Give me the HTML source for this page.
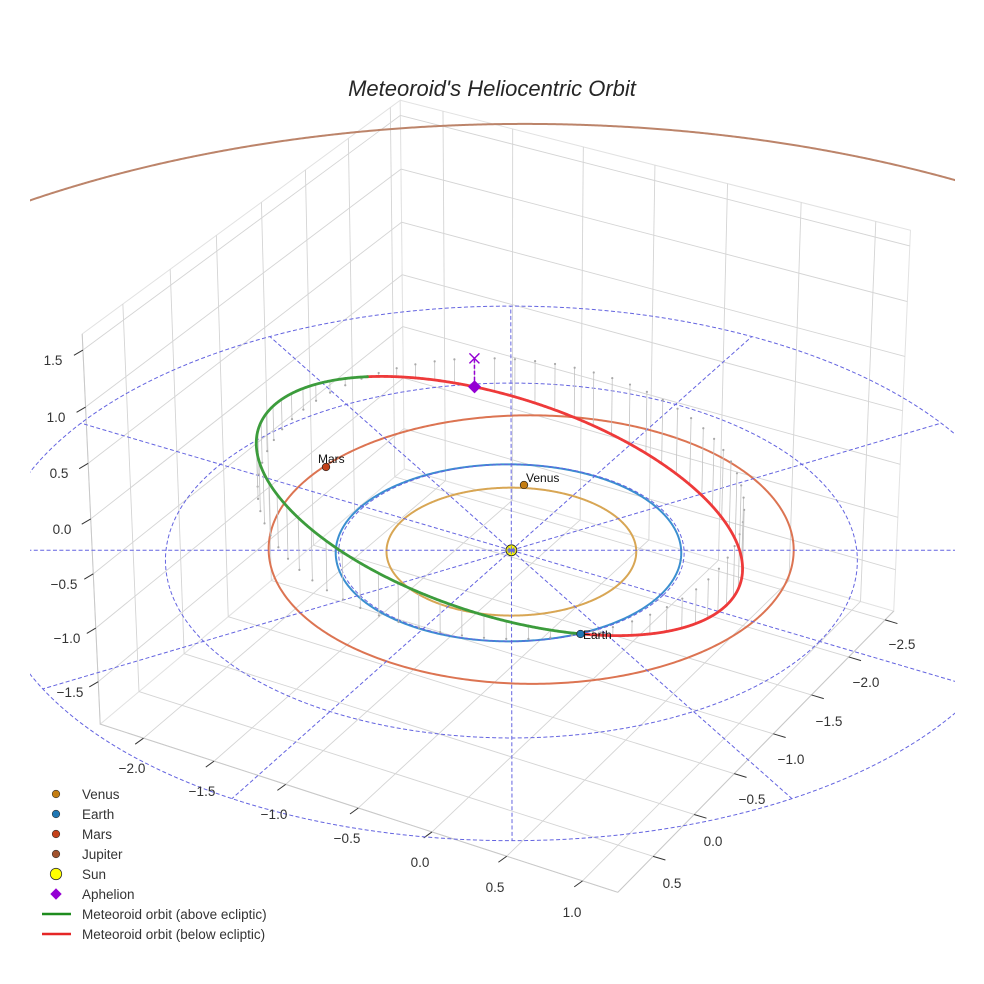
<!DOCTYPE html>
<html>
<head>
<meta charset="utf-8">
<style>
  html, body { margin:0; padding:0; background:#ffffff; width:984px; height:984px; overflow:hidden; }
  svg { display:block; font-family:"Liberation Sans", Arial, sans-serif; }
  .tk { font-size:13.5px; fill:#333333; text-anchor:middle; }
  .lg { font-size:13.5px; fill:#333333; }
  .pl { font-size:12px; fill:#111111; }
</style>
</head>
<body>
<svg id="s" xmlns="http://www.w3.org/2000/svg" width="984" height="984" viewBox="0 0 984 984" overflow="hidden">
  <defs>
    <clipPath id="clip"><rect x="30" y="30" width="925" height="925"/></clipPath>
  </defs>
  <rect x="0" y="0" width="984" height="984" fill="#ffffff"/>
  <g id="grid"></g>
  <g id="ticks"></g>
  <g id="data" clip-path="url(#clip)"></g>

  <!-- Title -->
  <text x="492" y="96" font-size="22" font-style="italic" fill="#262626" text-anchor="middle">Meteoroid's Heliocentric Orbit</text>

  <!-- z tick labels -->
  <text class="tk" x="53" y="365">1.5</text>
  <text class="tk" x="56" y="422">1.0</text>
  <text class="tk" x="59" y="478">0.5</text>
  <text class="tk" x="62" y="534">0.0</text>
  <text class="tk" x="64" y="589">−0.5</text>
  <text class="tk" x="67" y="643">−1.0</text>
  <text class="tk" x="70" y="697">−1.5</text>

  <!-- x tick labels -->
  <text class="tk" x="132" y="773">−2.0</text>
  <text class="tk" x="202" y="796">−1.5</text>
  <text class="tk" x="274" y="819">−1.0</text>
  <text class="tk" x="347" y="843">−0.5</text>
  <text class="tk" x="420" y="867">0.0</text>
  <text class="tk" x="495" y="892">0.5</text>
  <text class="tk" x="572" y="917">1.0</text>

  <!-- y tick labels -->
  <text class="tk" x="902" y="649">−2.5</text>
  <text class="tk" x="866" y="687">−2.0</text>
  <text class="tk" x="829" y="726">−1.5</text>
  <text class="tk" x="791" y="764">−1.0</text>
  <text class="tk" x="752" y="804">−0.5</text>
  <text class="tk" x="713" y="846">0.0</text>
  <text class="tk" x="672" y="888">0.5</text>

  <!-- Planet markers & labels -->
  <circle cx="524" cy="485" r="3.8" fill="#c47d12" stroke="#222" stroke-width="0.7"/>
  <circle cx="580.5" cy="634" r="3.8" fill="#1f77b4" stroke="#222" stroke-width="0.7"/>
  <circle cx="326" cy="467" r="3.8" fill="#c4421a" stroke="#222" stroke-width="0.7"/>
  <text class="pl" x="526" y="482">Venus</text>
  <text class="pl" x="583" y="639">Earth</text>
  <text class="pl" x="318" y="463">Mars</text>

  <!-- Legend -->
  <circle cx="56" cy="794" r="3.8" fill="#c47d12" stroke="#333" stroke-width="0.6"/>
  <text class="lg" x="82" y="799">Venus</text>
  <circle cx="56" cy="814" r="3.8" fill="#1f77b4" stroke="#333" stroke-width="0.6"/>
  <text class="lg" x="82" y="819">Earth</text>
  <circle cx="56" cy="834" r="3.8" fill="#c4421a" stroke="#333" stroke-width="0.6"/>
  <text class="lg" x="82" y="839">Mars</text>
  <circle cx="56" cy="854" r="3.8" fill="#a0522d" stroke="#333" stroke-width="0.6"/>
  <text class="lg" x="82" y="859">Jupiter</text>
  <circle cx="56" cy="874" r="5.7" fill="#ffff00" stroke="#333" stroke-width="0.8"/>
  <text class="lg" x="82" y="879">Sun</text>
  <polygon points="56,888.3 61.7,894 56,899.7 50.3,894" fill="#9400d3"/>
  <text class="lg" x="82" y="899">Aphelion</text>
  <line x1="42" y1="914" x2="71" y2="914" stroke="#1e8c1e" stroke-width="2.5"/>
  <text class="lg" x="82" y="919">Meteoroid orbit (above ecliptic)</text>
  <line x1="42" y1="934" x2="71" y2="934" stroke="#e52626" stroke-width="2.5"/>
  <text class="lg" x="82" y="939">Meteoroid orbit (below ecliptic)</text>
</svg>

<script>
(function(){
  var NS = 'http://www.w3.org/2000/svg';
  var S = 5190, CX = 504, CY = 478;
  var XL = [-2.31, 1.23], YL = [-2.62, 0.92], ZL = [-1.90, 1.64];
  var AS = [1.14287, 1.14287, 0.85715];
  var elv = 30 * Math.PI / 180, az = 60 * Math.PI / 180;
  var w = [Math.cos(elv)*Math.cos(az), Math.cos(elv)*Math.sin(az), Math.sin(elv)];
  var u = [-Math.sin(az), Math.cos(az), 0];
  var v = [-Math.sin(elv)*Math.cos(az), -Math.sin(elv)*Math.sin(az), Math.cos(elv)];

  function P(x, y, z) {
    var a = (x - XL[0]) / (XL[1] - XL[0]) * AS[0] - AS[0]/2;
    var b = (y - YL[0]) / (YL[1] - YL[0]) * AS[1] - AS[1]/2;
    var c = (z - ZL[0]) / (ZL[1] - ZL[0]) * AS[2] - AS[2]/2;
    var xv = a*u[0] + b*u[1];
    var yv = a*v[0] + b*v[1] + c*v[2];
    var zv = a*w[0] + b*w[1] + c*w[2] - 10;
    return [CX - S*xv/(-zv), CY - S*yv/(-zv)];
  }
  function mk(parent, tag, attrs) {
    var e = document.createElementNS(NS, tag);
    for (var k in attrs) e.setAttribute(k, attrs[k]);
    parent.appendChild(e);
    return e;
  }
  function pth(pts) {
    var d = '';
    for (var i = 0; i < pts.length; i++) {
      d += (i ? 'L' : 'M') + pts[i][0].toFixed(2) + ' ' + pts[i][1].toFixed(2);
    }
    return d;
  }
  // keep only parts of a polyline inside a safe box (clip handles exact edge)
  function inb(p) { return p[0] >= 24 && p[0] <= 961 && p[1] >= 24 && p[1] <= 961; }
  function trimPath(pts) {
    var d = '', cur = [];
    function flush() { if (cur.length > 1) d += pth(cur); cur = []; }
    for (var i = 0; i < pts.length; i++) {
      if (inb(pts[i])) { cur.push(pts[i]); } else { flush(); }
    }
    flush();
    return d;
  }
  function line3(g, A, B, attrs) {
    var p = P(A[0],A[1],A[2]), q = P(B[0],B[1],B[2]);
    var o = {x1:p[0].toFixed(2), y1:p[1].toFixed(2), x2:q[0].toFixed(2), y2:q[1].toFixed(2)};
    for (var k in attrs) o[k] = attrs[k];
    return mk(g, 'line', o);
  }
  function poly3(g, pts, attrs) {
    var pp = pts.map(function(p){ return P(p[0],p[1],p[2]); });
    var o = {d: pth(pp) + 'Z'};
    for (var k in attrs) o[k] = attrs[k];
    return mk(g, 'path', o);
  }

  var grid = document.getElementById('grid');
  var ticks = document.getElementById('ticks');
  var data = document.getElementById('data');
  var x0 = XL[0], x1 = XL[1], y0 = YL[0], y1 = YL[1], z0 = ZL[0], z1 = ZL[1];
  var xt = [-2, -1.5, -1, -0.5, 0, 0.5, 1];
  var yt = [-2.5, -2, -1.5, -1, -0.5, 0, 0.5];
  var zt = [-1.5, -1, -0.5, 0, 0.5, 1, 1.5];

  // panes
  var pe = {fill:'#ffffff', stroke:'#e2e2e2', 'stroke-width':1};
  poly3(grid, [[x0,y0,z0],[x1,y0,z0],[x1,y1,z0],[x0,y1,z0]], pe);
  poly3(grid, [[x0,y0,z0],[x0,y1,z0],[x0,y1,z1],[x0,y0,z1]], pe);
  poly3(grid, [[x0,y0,z0],[x1,y0,z0],[x1,y0,z1],[x0,y0,z1]], pe);

  var gs = {stroke:'#d4d4d4', 'stroke-width':0.9};
  xt.forEach(function(x){
    line3(grid, [x,y0,z0], [x,y1,z0], gs);
    line3(grid, [x,y0,z0], [x,y0,z1], gs);
  });
  yt.forEach(function(y){
    line3(grid, [x0,y,z0], [x1,y,z0], gs);
    line3(grid, [x0,y,z0], [x0,y,z1], gs);
  });
  zt.forEach(function(z){
    line3(grid, [x0,y0,z], [x0,y1,z], gs);
    line3(grid, [x0,y0,z], [x1,y0,z], gs);
  });
  var al = {stroke:'#c8c8c8', 'stroke-width':1};
  line3(grid, [x0,y1,z0], [x1,y1,z0], al);
  line3(grid, [x1,y0,z0], [x1,y1,z0], al);
  line3(grid, [x0,y1,z0], [x0,y1,z1], al);

  function tick(p, dx, dy) {
    mk(ticks, 'line', {x1:p[0].toFixed(2), y1:p[1].toFixed(2), x2:(p[0]+dx).toFixed(2), y2:(p[1]+dy).toFixed(2), stroke:'#333', 'stroke-width':1});
  }
  xt.forEach(function(x){ tick(P(x,y1,z0), -8.3, 6); });
  yt.forEach(function(y){ tick(P(x1,y,z0), 12.3, 3.7); });
  zt.forEach(function(z){ tick(P(x0,y1,z), -9, 5.3); });

  function circ(cx, cy, R, n) {
    var pts = [];
    for (var i = 0; i <= n; i++) {
      var t = i / n * 2 * Math.PI;
      pts.push(P(cx + R*Math.cos(t), cy + R*Math.sin(t), 0));
    }
    return pts;
  }

  // Jupiter (trimmed to visible region)
  mk(data, 'path', {d: trimPath(circ(-0.1195, -0.4019, 5.192, 2880)), fill:'none', stroke:'#bc846a', 'stroke-width':2});
  // Mars, Earth, Venus orbits
  mk(data, 'path', {d: pth(circ(0.062, -0.122, 1.522, 720)), fill:'none', stroke:'#dc7452', 'stroke-width':2});
  mk(data, 'path', {d: pth(circ(-0.0145, 0.0084, 1.0, 720)), fill:'none', stroke:'#3b8fd0', 'stroke-width':2});
  mk(data, 'path', {d: pth(circ(0, 0, 0.723, 720)), fill:'none', stroke:'#d8a654', 'stroke-width':2});

  // Sun
  var sp = P(0,0,0);
  mk(data, 'circle', {cx:sp[0].toFixed(2), cy:sp[1].toFixed(2), r:5.5, fill:'#ffff00', stroke:'#222', 'stroke-width':0.9});

  // dashed reference rings and radials
  var dsA = {fill:'none', stroke:'#6464e0', 'stroke-width':1, 'stroke-dasharray':'4 2.4'};
  [1, 2, 3].forEach(function(r){
    var o = {d: trimPath(circ(0, 0, r, 1440))};
    for (var k in dsA) o[k] = dsA[k];
    mk(data, 'path', o);
  });
  for (var ang = 0; ang < 360; ang += 30) {
    var t = ang * Math.PI / 180, pts = [];
    for (var j = 0; j <= 120; j++) {
      var rr = 3 * j / 120;
      pts.push(P(rr*Math.cos(t), rr*Math.sin(t), 0));
    }
    var o2 = {d: trimPath(pts)};
    for (var k2 in dsA) o2[k2] = dsA[k2];
    mk(data, 'path', o2);
  }

  // meteoroid orbit
  var a = 1.663, e = 0.408, inc = 21*Math.PI/180, Om = 37*Math.PI/180, thp = -18.6*Math.PI/180;
  var N = [Math.cos(Om), Math.sin(Om), 0];
  var Mh = [Math.cos(Om - Math.PI/2), Math.sin(Om - Math.PI/2)];
  var M = [Math.cos(inc)*Mh[0], Math.cos(inc)*Mh[1], -Math.sin(inc)];
  var Pp = [0,1,2].map(function(i){ return Math.cos(thp)*N[i] + Math.sin(thp)*M[i]; });
  var Qp = [0,1,2].map(function(i){ return -Math.sin(thp)*N[i] + Math.cos(thp)*M[i]; });
  var bs = a*Math.sqrt(1 - e*e);
  function orb(E) {
    var X = a*(Math.cos(E) - e), Y = bs*Math.sin(E);
    return [X*Pp[0] + Y*Qp[0], X*Pp[1] + Y*Qp[1], X*Pp[2] + Y*Qp[2]];
  }

  // stems
  for (var k = 0; k < 72; k++) {
    var E = k * 5 * Math.PI / 180;
    var p = orb(E);
    line3(data, p, [p[0], p[1], 0], {stroke:'#c2c2c2', 'stroke-width':0.8});
    var q = P(p[0], p[1], 0);
    mk(data, 'circle', {cx:q[0].toFixed(2), cy:q[1].toFixed(2), r:1.1, fill:'#a8a8a8'});
  }

  // orbit segments split by z sign
  var n = 1440, segs = [], cur = [], curSign = null;
  for (var i = 0; i <= n; i++) {
    var E2 = i / n * 2 * Math.PI;
    var p2 = orb(E2);
    var sg = p2[2] >= 0;
    var sp2 = P(p2[0], p2[1], p2[2]);
    if (curSign === null) { curSign = sg; }
    if (sg !== curSign) {
      cur.push(sp2);
      segs.push({s:curSign, pts:cur});
      cur = [cur[cur.length-2], sp2];
      curSign = sg;
    } else {
      cur.push(sp2);
    }
  }
  segs.push({s:curSign, pts:cur});
  segs.forEach(function(sg){
    mk(data, 'path', {d: pth(sg.pts), fill:'none', stroke: sg.s ? '#3c9c3c' : '#ee3a3a', 'stroke-width':2.8, 'stroke-linecap':'round'});
  });

  // aphelion
  var ap = orb(Math.PI);
  var A = P(ap[0], ap[1], ap[2]);
  var Ax = P(ap[0], ap[1], 0);
  mk(data, 'line', {x1:A[0].toFixed(2), y1:A[1].toFixed(2), x2:Ax[0].toFixed(2), y2:Ax[1].toFixed(2), stroke:'#9400d3', 'stroke-width':1.5, 'stroke-dasharray':'4 2'});
  var h = 6.6;
  mk(data, 'polygon', {points: [A[0]+','+(A[1]-h), (A[0]+h)+','+A[1], A[0]+','+(A[1]+h), (A[0]-h)+','+A[1]].join(' '), fill:'#9400d3'});
  var xs = 5;
  mk(data, 'path', {d:'M'+(Ax[0]-xs)+' '+(Ax[1]-xs)+'L'+(Ax[0]+xs)+' '+(Ax[1]+xs)+'M'+(Ax[0]-xs)+' '+(Ax[1]+xs)+'L'+(Ax[0]+xs)+' '+(Ax[1]-xs), stroke:'#9400d3', 'stroke-width':1.4, fill:'none'});
})();
</script>
</body>
</html>
